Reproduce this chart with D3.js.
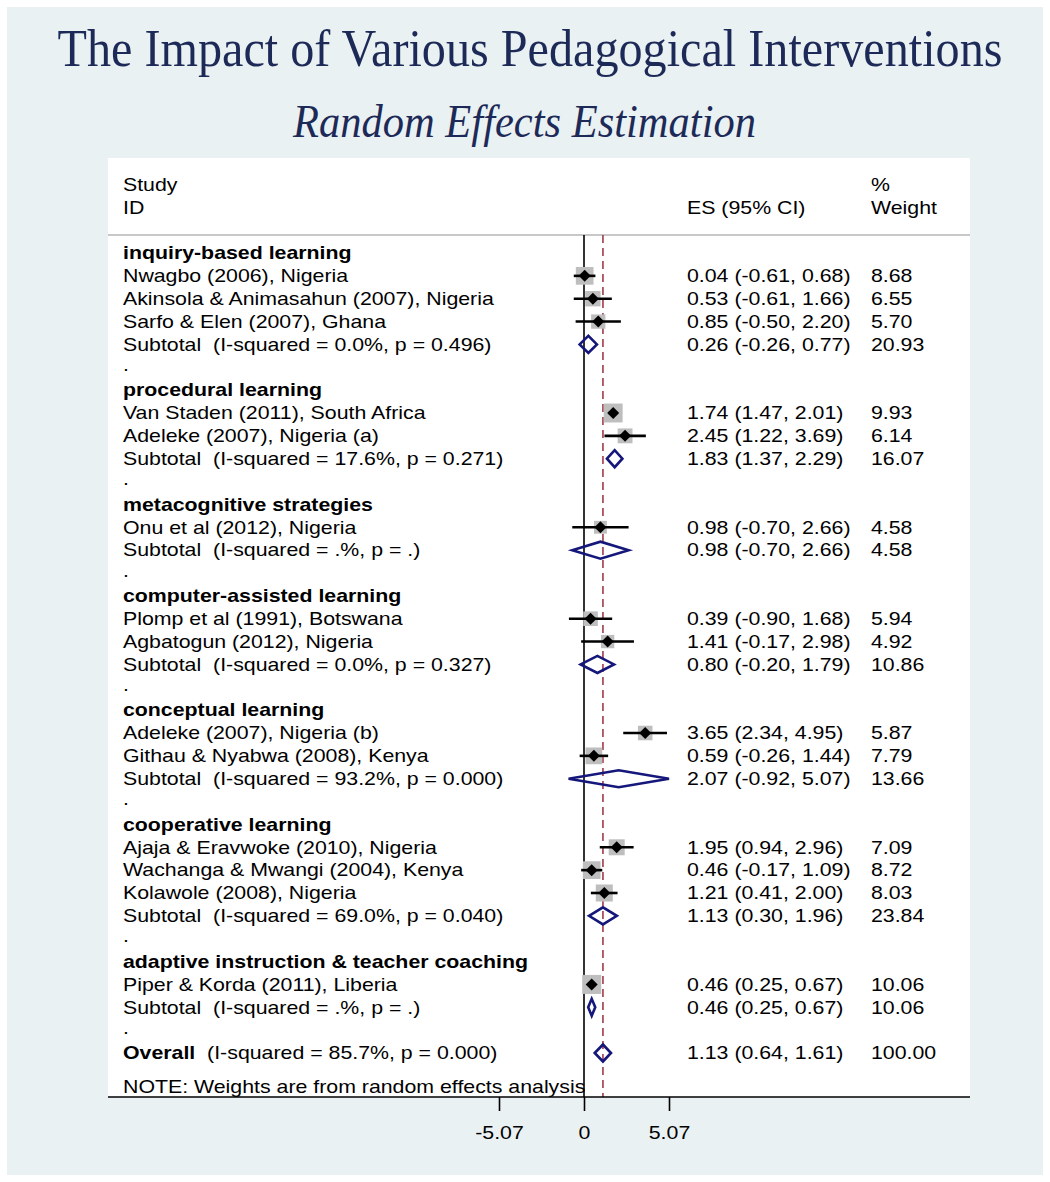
<!DOCTYPE html>
<html>
<head>
<meta charset="utf-8">
<script src="https://cdn.jsdelivr.net/npm/d3@7"></script>
<style>
  body { margin: 0; background: #ffffff; }
  svg text { font-family: "Liberation Sans", Arial, sans-serif; }
</style>
</head>
<body>
<svg id="chart" width="1050" height="1182"></svg>
<script>
// ---- data ----
const groupNames = [
  'inquiry-based learning',
  'procedural learning',
  'metacognitive strategies',
  'computer-assisted learning',
  'conceptual learning',
  'cooperative learning',
  'adaptive instruction & teacher coaching'
];

const studyLabels = [
  'Nwagbo (2006), Nigeria',
  'Akinsola & Animasahun (2007), Nigeria',
  'Sarfo & Elen (2007), Ghana',
  'Van Staden (2011), South Africa',
  'Adeleke (2007), Nigeria (a)',
  'Onu et al (2012), Nigeria',
  'Plomp et al (1991), Botswana',
  'Agbatogun (2012), Nigeria',
  'Adeleke (2007), Nigeria (b)',
  'Githau & Nyabwa (2008), Kenya',
  'Ajaja & Eravwoke (2010), Nigeria',
  'Wachanga & Mwangi (2004), Kenya',
  'Kolawole (2008), Nigeria',
  'Piper & Korda (2011), Liberia'
];
const studyGroup = [0, 0, 0, 1, 1, 2, 3, 3, 4, 4, 5, 5, 5, 6];
const studyES = [0.04, 0.53, 0.85, 1.74, 2.45, 0.98, 0.39, 1.41, 3.65, 0.59, 1.95, 0.46, 1.21, 0.46];
const studyLo = [-0.61, -0.61, -0.50, 1.47, 1.22, -0.70, -0.90, -0.17, 2.34, -0.26, 0.94, -0.17, 0.41, 0.25];
const studyHi = [0.68, 1.66, 2.20, 2.01, 3.69, 2.66, 1.68, 2.98, 4.95, 1.44, 2.96, 1.09, 2.00, 0.67];
const studyWeight = [8.68, 6.55, 5.70, 9.93, 6.14, 4.58, 5.94, 4.92, 5.87, 7.79, 7.09, 8.72, 8.03, 10.06];

const subHetero = [
  '(I-squared = 0.0%, p = 0.496)',
  '(I-squared = 17.6%, p = 0.271)',
  '(I-squared = .%, p = .)',
  '(I-squared = 0.0%, p = 0.327)',
  '(I-squared = 93.2%, p = 0.000)',
  '(I-squared = 69.0%, p = 0.040)',
  '(I-squared = .%, p = .)'
];
const subES = [0.26, 1.83, 0.98, 0.80, 2.07, 1.13, 0.46];
const subLo = [-0.26, 1.37, -0.70, -0.20, -0.92, 0.30, 0.25];
const subHi = [0.77, 2.29, 2.66, 1.79, 5.07, 1.96, 0.67];
const subWeight = [20.93, 16.07, 4.58, 10.86, 13.66, 23.84, 10.06];

const overallHetero = '(I-squared = 85.7%, p = 0.000)';
const overallES = 1.13, overallLo = 0.64, overallHi = 1.61, overallWeight = 100.00;

const axisTicks = [-5.07, 0, 5.07];
const axisTickLabels = ['-5.07', '0', '5.07'];

// ---- layout ----
// plain hyphen for negatives, like the original output
const fmt = v => v.toFixed(2);
const ciText = (e, l, h) => `${fmt(e)} (${fmt(l)}, ${fmt(h)})`;

const rows = [];
groupNames.forEach((g, gi) => {
  rows.push({ type: 'header', label: g });
  studyLabels.forEach((s, si) => {
    if (studyGroup[si] === gi) {
      rows.push({ type: 'study', label: s, es: studyES[si], lo: studyLo[si], hi: studyHi[si], w: studyWeight[si] });
    }
  });
  rows.push({ type: 'sub', label: 'Subtotal', het: subHetero[gi], es: subES[gi], lo: subLo[gi], hi: subHi[gi], w: subWeight[gi] });
  rows.push({ type: 'dot', label: '.' });
});
rows.push({ type: 'overall', label: 'Overall', het: overallHetero, es: overallES, lo: overallLo, hi: overallHi, w: overallWeight });

const svg = d3.select('#chart');
const W = 1050, H = 1182;
const panel = { left: 108, right: 970, top: 158, bottom: 1097 };

const x = d3.scaleLinear().domain([-5.07, 5.07]).range([499, 669]);
const y = d3.scaleLinear().domain([0, 35]).range([253, 1053]);

const textX = 123, esX = 687, wX = 871;
const fontSize = 18;
const stretch = 1.185; // stata text comes out a bit wide
const colGroup = ax0 => svg.append('g')
  .attr('transform', `translate(${ax0},0) scale(${stretch},1) translate(${-ax0},0)`)
  .style('font-size', fontSize + 'px')
  .style('fill', '#000');

// backgrounds
svg.append('rect')
  .attr('x', 7).attr('y', 7).attr('width', W - 14).attr('height', H - 14)
  .style('fill', '#eaf1f3');
svg.append('rect')
  .attr('x', panel.left).attr('y', panel.top)
  .attr('width', panel.right - panel.left).attr('height', panel.bottom - panel.top)
  .style('fill', '#ffffff');

// titles
svg.append('text')
  .attr('transform', 'translate(530,66) scale(1,1.15)')
  .attr('text-anchor', 'middle')
  .attr('textLength', 945).attr('lengthAdjust', 'spacingAndGlyphs')
  .style('font-family', '"Liberation Serif", "Times New Roman", serif')
  .style('font-size', '46px')
  .style('fill', '#1d2a58')
  .text('The Impact of Various Pedagogical Interventions');
svg.append('text')
  .attr('transform', 'translate(524.5,137) scale(1,1.08)')
  .attr('text-anchor', 'middle')
  .attr('textLength', 463).attr('lengthAdjust', 'spacingAndGlyphs')
  .style('font-family', '"Liberation Serif", "Times New Roman", serif')
  .style('font-style', 'italic')
  .style('font-size', '42px')
  .style('fill', '#1d2a58')
  .text('Random Effects Estimation');

// column headers
const labG = colGroup(textX), esG = colGroup(esX), wG = colGroup(wX);
labG.append('text').attr('x', textX).attr('y', 185).attr('dy', '0.35em').text('Study');
labG.append('text').attr('x', textX).attr('y', 208).attr('dy', '0.35em').text('ID');
esG.append('text').attr('x', esX).attr('y', 208).attr('dy', '0.35em').text('ES (95% CI)');
wG.append('text').attr('x', wX).attr('y', 185).attr('dy', '0.35em').text('%');
wG.append('text').attr('x', wX).attr('y', 208).attr('dy', '0.35em').text('Weight');

svg.append('line')
  .attr('x1', panel.left).attr('x2', panel.right)
  .attr('y1', 235).attr('y2', 235)
  .style('stroke', '#c8c8c8').style('stroke-width', 2);

// reference lines
svg.append('line')
  .attr('x1', x(0)).attr('x2', x(0))
  .attr('y1', 235).attr('y2', panel.bottom)
  .style('stroke', '#000').style('stroke-width', 1.6);
svg.append('line')
  .attr('x1', x(overallES)).attr('x2', x(overallES))
  .attr('y1', 235).attr('y2', panel.bottom)
  .style('stroke', '#a03a48').style('stroke-width', 1.6)
  .style('stroke-dasharray', '8,5');

// row texts
rows.forEach((r, i) => {
  const yy = y(i);
  if (r.type === 'header') {
    labG.append('text').attr('x', textX).attr('y', yy).attr('dy', '0.35em')
      .style('font-weight', 'bold').text(r.label);
  } else if (r.type === 'dot') {
    labG.append('text').attr('x', textX).attr('y', yy).attr('dy', '0.2em').text(r.label);
  } else if (r.type === 'study') {
    labG.append('text').attr('x', textX).attr('y', yy).attr('dy', '0.35em').text(r.label);
  } else {
    const t = labG.append('text').attr('x', textX).attr('y', yy).attr('dy', '0.35em')
      .style('white-space', 'pre');
    t.append('tspan').style('font-weight', r.type === 'overall' ? 'bold' : 'normal').text(r.label);
    t.append('tspan').text('  ' + r.het);
  }
  if (r.es !== undefined) {
    esG.append('text').attr('x', esX).attr('y', yy).attr('dy', '0.35em').text(ciText(r.es, r.lo, r.hi));
    wG.append('text').attr('x', wX).attr('y', yy).attr('dy', '0.35em').text(fmt(r.w));
  }
});

// study marks
const studyRows = rows.map((r, i) => ({ ...r, i })).filter(r => r.type === 'study');
const boxK = 6;
svg.append('g').selectAll('rect')
  .data(studyRows)
  .enter().append('rect')
  .attr('x', d => x(d.es) - boxK * Math.sqrt(d.w) / 2)
  .attr('y', d => y(d.i) - boxK * Math.sqrt(d.w) / 2)
  .attr('width', d => boxK * Math.sqrt(d.w))
  .attr('height', d => boxK * Math.sqrt(d.w))
  .style('fill', '#bebebe');
svg.append('g').selectAll('line')
  .data(studyRows)
  .enter().append('line')
  .attr('x1', d => x(d.lo)).attr('x2', d => x(d.hi))
  .attr('y1', d => y(d.i)).attr('y2', d => y(d.i))
  .style('stroke', '#000').style('stroke-width', 2.6);
svg.append('g').selectAll('path')
  .data(studyRows)
  .enter().append('path')
  .attr('d', d => {
    const cx = x(d.es), cy = y(d.i), s = 6;
    return `M${cx - s},${cy}L${cx},${cy - s}L${cx + s},${cy}L${cx},${cy + s}Z`;
  })
  .style('fill', '#000');

// pooled diamonds
const pooledRows = rows.map((r, i) => ({ ...r, i })).filter(r => r.type === 'sub' || r.type === 'overall');
svg.append('g').selectAll('path')
  .data(pooledRows)
  .enter().append('path')
  .attr('d', d => {
    const cy = y(d.i), h = 8.5;
    return `M${x(d.lo)},${cy}L${x(d.es)},${cy - h}L${x(d.hi)},${cy}L${x(d.es)},${cy + h}Z`;
  })
  .style('fill', 'none')
  .style('stroke', '#15177a')
  .style('stroke-width', 2.6)
  .style('stroke-linejoin', 'miter');

// note
labG.append('text')
  .attr('x', textX).attr('y', y(35) + 34).attr('dy', '0.35em')
  .text('NOTE: Weights are from random effects analysis');

// axis
const xAxis = d3.axisBottom(x)
  .tickValues(axisTicks)
  .tickFormat((d, i) => axisTickLabels[i])
  .tickSize(14)
  .tickPadding(15);
const ax = svg.append('g')
  .attr('transform', `translate(0,${panel.bottom})`)
  .call(xAxis);
ax.select('.domain').remove();
ax.selectAll('.tick line').style('stroke', '#000').style('stroke-width', 1.6);
ax.selectAll('.tick text')
  .attr('transform', `scale(${stretch},1)`)
  .style('font-family', '"Liberation Sans", Arial, sans-serif')
  .style('font-size', fontSize + 'px')
  .style('fill', '#000');
svg.append('line')
  .attr('x1', panel.left).attr('x2', panel.right)
  .attr('y1', panel.bottom).attr('y2', panel.bottom)
  .style('stroke', '#000').style('stroke-width', 1.6);
</script>
</body>
</html>
